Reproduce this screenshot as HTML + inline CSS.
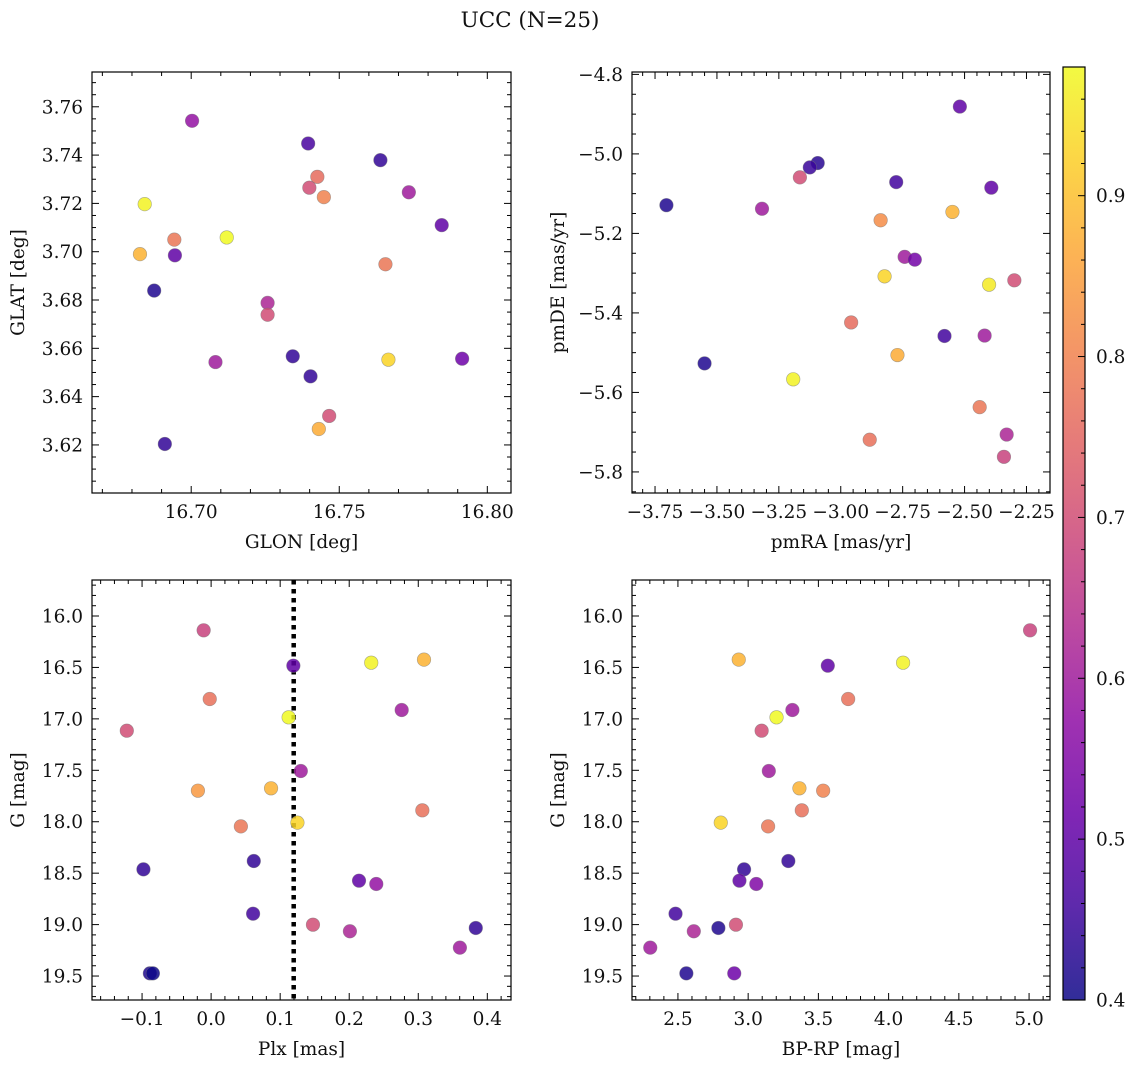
<!DOCTYPE html>
<html><head><meta charset="utf-8"><style>
html,body{margin:0;padding:0;background:#fff;}
svg{display:block;font-family:"DejaVu Serif","Liberation Serif",serif;}
</style></head><body>
<svg id="fig" width="1136" height="1067" viewBox="0 0 1136 1067" xmlns="http://www.w3.org/2000/svg">
<text x="530" y="27" font-size="21.5" text-anchor="middle" fill="#111">UCC (N=25)</text>
</svg>
<script>
// Panel 1: GLON vs GLAT
const glon=[16.7003,16.7395,16.7639,16.7426,16.7399,16.7735,16.7448,16.6843,16.7846,16.7120,16.6943,16.6827,16.6945,16.7656,16.6875,16.7258,16.7258,16.7343,16.7082,16.7666,16.7915,16.7403,16.7466,16.7431,16.6911];
const glat=[3.7542,3.7448,3.7379,3.7310,3.7265,3.7246,3.7226,3.7197,3.7110,3.7059,3.7050,3.6990,3.6985,3.6948,3.6839,3.6788,3.6739,3.6567,3.6543,3.6553,3.6557,3.6484,3.6320,3.6266,3.6204];
const prob1=[0.58,0.47,0.44,0.76,0.70,0.60,0.80,0.97,0.50,0.98,0.78,0.88,0.50,0.78,0.42,0.62,0.70,0.44,0.60,0.93,0.52,0.44,0.70,0.87,0.44];
// Panel 2: pmRA vs pmDE
const pmra=[-2.519,-3.093,-3.125,-3.165,-2.776,-2.392,-3.704,-3.318,-2.549,-2.839,-2.742,-2.701,-2.823,-2.401,-2.299,-2.958,-2.581,-2.419,-3.550,-2.771,-3.192,-2.439,-2.330,-2.883,-2.341];
const pmde=[-4.881,-5.023,-5.034,-5.059,-5.071,-5.085,-5.129,-5.138,-5.146,-5.167,-5.259,-5.266,-5.308,-5.329,-5.318,-5.424,-5.458,-5.457,-5.527,-5.506,-5.567,-5.637,-5.706,-5.719,-5.762];
const prob2=[0.50,0.43,0.45,0.70,0.46,0.50,0.42,0.60,0.88,0.82,0.60,0.53,0.93,0.96,0.70,0.76,0.46,0.60,0.42,0.87,0.97,0.78,0.62,0.77,0.68];
// Panel 3: Plx vs G
const plx=[-0.0108,0.1191,0.2319,0.3083,-0.0020,0.1123,0.2760,-0.1221,0.1299,-0.0191,0.0868,0.1250,0.0431,0.3059,-0.0980,0.0618,0.2142,0.2392,0.0608,0.1475,0.2010,0.3833,0.3603,-0.0887,-0.0843];
const gmag3=[16.139,16.483,16.454,16.424,16.807,16.985,16.914,17.115,17.507,17.698,17.675,18.009,18.045,17.889,18.463,18.382,18.573,18.605,18.894,19.001,19.065,19.033,19.224,19.474,19.474];
const prob3=[0.68,0.50,0.97,0.88,0.77,0.98,0.60,0.70,0.60,0.84,0.88,0.93,0.78,0.77,0.44,0.44,0.50,0.58,0.46,0.70,0.62,0.44,0.60,0.42,0.40];
const plxMedian=0.1196;
// Panel 4: BP-RP vs G
const bprp=[5.007,2.933,4.103,3.567,3.712,3.202,3.315,3.096,3.147,3.365,3.534,3.382,2.805,3.142,2.971,3.286,2.938,3.058,2.483,2.913,2.613,2.788,2.303,2.560,2.901];
const gmag4=[16.139,16.424,16.454,16.483,16.807,16.985,16.914,17.115,17.507,17.675,17.698,17.889,18.009,18.045,18.463,18.382,18.573,18.605,18.894,19.001,19.065,19.033,19.224,19.474,19.474];
const prob4=[0.68,0.88,0.97,0.50,0.77,0.98,0.60,0.70,0.60,0.88,0.80,0.77,0.93,0.78,0.44,0.44,0.50,0.55,0.46,0.70,0.62,0.42,0.60,0.42,0.52];
// Tick values
const p1xTicks=[16.70,16.75,16.80], p1yTicks=[3.62,3.64,3.66,3.68,3.70,3.72,3.74,3.76];
const p2xTicks=[-3.75,-3.50,-3.25,-3.00,-2.75,-2.50,-2.25], p2yTicks=[-5.8,-5.6,-5.4,-5.2,-5.0,-4.8];
const p3xTicks=[-0.1,0.0,0.1,0.2,0.3,0.4], gTicks=[16.0,16.5,17.0,17.5,18.0,18.5,19.0,19.5];
const p4xTicks=[2.5,3.0,3.5,4.0,4.5,5.0];
const cbTicks=[0.4,0.5,0.6,0.7,0.8,0.9];
const cbMin=0.4, cbMax=0.98;

const NS="http://www.w3.org/2000/svg";
const svg=document.getElementById('fig');
const FS=18.5;
function mk(tag,attrs,parent){const e=document.createElementNS(NS,tag);for(const k in attrs)e.setAttribute(k,attrs[k]);(parent||svg).appendChild(e);return e;}
const stops=["#0d0887","#41049d","#6a00a8","#8f0da4","#b12a90","#cc4778","#e16462","#f2844b","#fca636","#fcce25","#f0f921"];
function hex(h){return[parseInt(h.slice(1,3),16),parseInt(h.slice(3,5),16),parseInt(h.slice(5,7),16)];}
function plasma(t){t=Math.max(0,Math.min(1,t));const f=t*10,i=Math.min(9,Math.floor(f)),u=f-i;const a=hex(stops[i]),b=hex(stops[i+1]);return "rgb("+a.map((v,k)=>Math.round(v+(b[k]-v)*u)).join(",")+")";}
function cmap(p){return plasma((p-cbMin)/(cbMax-cbMin));}
function fmt(v,d){const s=Math.abs(v).toFixed(d);return (v<-1e-9?"\u2212":"")+s;}

function panel(o){
  const g=mk('g',{});
  
  
  const X=v=>o.l+(v-o.x0)/(o.x1-o.x0)*(o.r-o.l);
  const Y=v=>o.b-(v-o.y0)/(o.y1-o.y0)*(o.b-o.t);
  const xmin=Math.min(o.x0,o.x1),xmax=Math.max(o.x0,o.x1),ymin=Math.min(o.y0,o.y1),ymax=Math.max(o.y0,o.y1);
  if(o.vline!==undefined){
    const ln=mk('line',{x1:X(o.vline),x2:X(o.vline),y1:o.t,y2:o.b,stroke:"#000","stroke-width":4.5,"stroke-dasharray":"4.5 4.5"},g);
    
    
  }
  for(let i=0;i<o.xs.length;i++){
    const c=mk('circle',{cx:X(o.xs[i]),cy:Y(o.ys[i]),r:6.8,fill:cmap(o.ps[i]),"fill-opacity":0.85,stroke:"#777","stroke-opacity":0.6,"stroke-width":0.6},g);
    
    
  }
  const tk=mk('g',{stroke:"#000","stroke-width":1},g);
  
  
  const step=o.xTicks[1]-o.xTicks[0], ms=step/o.xMinor;
  for(let v=o.xTicks[0]-step*4;v<=xmax+1e-9;v+=ms){
    if(v<xmin-1e-9)continue;
    const k=Math.round((v-o.xTicks[0])/ms), major=(k%o.xMinor===0), L=major?7:4, x=X(v);
    mk('line',{x1:x,x2:x,y1:o.b,y2:o.b-L},tk);mk('line',{x1:x,x2:x,y1:o.t,y2:o.t+L},tk);
  }
  const ystep=o.yTicks[1]-o.yTicks[0], yms=ystep/o.yMinor;
  for(let v=o.yTicks[0]-ystep*4;v<=ymax+1e-9;v+=yms){
    if(v<ymin-1e-9)continue;
    const k=Math.round((v-o.yTicks[0])/yms), major=(k%o.yMinor===0), L=major?7:4, y=Y(v);
    mk('line',{x1:o.l,x2:o.l+L,y1:y,y2:y},tk);mk('line',{x1:o.r,x2:o.r-L,y1:y,y2:y},tk);
  }
  const fr=mk('rect',{x:o.l,y:o.t,width:o.r-o.l,height:o.b-o.t,fill:"none",stroke:"#000","stroke-width":1.2},g);
  
  
  o.xTicks.forEach(v=>{const t=mk('text',{x:X(v),y:o.b+25,"font-size":FS,"text-anchor":"middle",fill:"#111"},g);t.textContent=fmt(v,o.xd);
    
    });
  o.yTicks.forEach(v=>{const t=mk('text',{x:o.l-9,y:Y(v)+6.5,"font-size":FS,"text-anchor":"end",fill:"#111"},g);t.textContent=fmt(v,o.yd);
    
    });
  const xl=mk('text',{x:(o.l+o.r)/2,y:o.b+55,"font-size":FS,"text-anchor":"middle",fill:"#111"},g);xl.textContent=o.xlabel;
  
  
  const yc=(o.t+o.b)/2, yx=o.l-68;
  const yl=mk('text',{x:yx,y:yc,"font-size":FS,"text-anchor":"middle",fill:"#111",transform:`rotate(-90 ${yx} ${yc})`},g);yl.textContent=o.ylabel;
  
  
}

panel({name:'glon-glat-panel',l:92,r:511,t:72,b:493,x0:16.6665,x1:16.808,y0:3.6001,y1:3.7744,xs:glon,ys:glat,ps:prob1,xTicks:p1xTicks,yTicks:p1yTicks,xMinor:5,yMinor:4,xd:2,yd:2,xlabel:"GLON [deg]",ylabel:"GLAT [deg]"});
panel({name:'pm-panel',l:632,r:1050,t:72,b:493,x0:-3.843,x1:-2.155,y0:-5.853,y1:-4.794,xs:pmra,ys:pmde,ps:prob2,xTicks:p2xTicks,yTicks:p2yTicks,xMinor:5,yMinor:4,xd:2,yd:1,xlabel:"pmRA [mas/yr]",ylabel:"pmDE [mas/yr]"});
panel({name:'plx-g-panel',l:92,r:511,t:580,b:1000,x0:-0.1725,x1:0.4343,y0:19.733,y1:15.650,xs:plx,ys:gmag3,ps:prob3,xTicks:p3xTicks,yTicks:gTicks,xMinor:5,yMinor:5,xd:1,yd:1,xlabel:"Plx [mas]",ylabel:"G [mag]",vline:plxMedian});
panel({name:'cmd-panel',l:632,r:1050,t:580,b:1000,x0:2.173,x1:5.149,y0:19.733,y1:15.650,xs:bprp,ys:gmag4,ps:prob4,xTicks:p4xTicks,yTicks:gTicks,xMinor:5,yMinor:5,xd:1,yd:1,xlabel:"BP-RP [mag]",ylabel:"G [mag]"});

(function(){
  const l=1063,r=1085,t=67,b=1000;
  const cg=mk('g',{});
  
  
  const defs=mk('defs',{},cg);
  const lg=mk('linearGradient',{id:'cbg',x1:0,y1:1,x2:0,y2:0},defs);
  for(let i=0;i<=20;i++){mk('stop',{offset:(i/20),"stop-color":plasma(i/20),"stop-opacity":0.85},lg);}
  mk('rect',{x:l,y:t,width:r-l,height:b-t,fill:"url(#cbg)",stroke:"#000","stroke-width":1.2},cg);
  const Y=v=>b-(v-cbMin)/(cbMax-cbMin)*(b-t);
  for(let v=cbMin;v<=cbMax+1e-9;v+=0.02){
    const k=Math.round((v-cbMin)/0.02), major=k%5===0, y=Y(v);
    mk('line',{x1:r,x2:r-(major?7:4),y1:y,y2:y,stroke:"#000","stroke-width":1},cg);
  }
  cbTicks.forEach(v=>{const tx=mk('text',{x:r+11,y:Y(v)+6.5,"font-size":FS,fill:"#111"},cg);tx.textContent=v.toFixed(1);
    
    });
})();
</script>
</body></html>
